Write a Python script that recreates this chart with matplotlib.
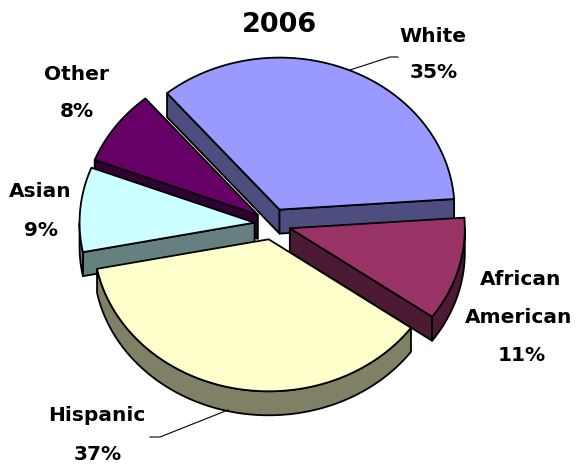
import numpy as np
import matplotlib.pyplot as plt
from matplotlib.patches import Polygon

# data
groups = ["White", "African American", "Hispanic", "Asian", "Other"]
shares = [35, 11, 37, 9, 8]
title = "2006"

top_colors = ["#9999FF", "#993366", "#FFFFCC", "#CCFFFF", "#660066"]
side_colors = ["#4D4D80", "#4D1A33", "#808066", "#668080", "#330033"]

# label placement (pixels): name lines and percent line
name_lines = [["White"], ["African", "American"], ["Hispanic"], ["Asian"], ["Other"]]
name_xy = [[(433, 36)], [(521, 279), (519, 317)], [(97, 415)], [(40, 191)], [(76, 74)]]
pct_xy = [(434, 73), (522, 355), (98, 454), (41, 230), (77, 111)]

fig = plt.figure(figsize=(5.79, 4.65), dpi=100)
ax = fig.add_axes([0, 0, 1, 1])
ax.set_xlim(0, 579)
ax.set_ylim(465, 0)
ax.axis("off")

cx, cy = 272.5, 224.0
rx, ry = 175.0, 152.0
depth = 24.0
explode = 18.0
start = 130.0
lw = 1.3


def rim(x0, y0, t, dz=0.0):
    return np.column_stack([x0 + rx * np.cos(t), y0 - ry * np.sin(t) + dz])


def wall(x0, y0, ta, tb, color):
    t = np.radians(np.linspace(ta, tb, 120))
    top = rim(x0, y0, t)
    bot = rim(x0, y0, t[::-1], depth)
    ax.add_patch(Polygon(np.vstack([top, bot]), closed=True, fc=color,
                         ec="black", lw=lw, joinstyle="round"))


def radial(x0, y0, tdeg, color):
    t = np.radians(tdeg)
    px, py = x0 + rx * np.cos(t), y0 - ry * np.sin(t)
    pts = [(x0, y0), (px, py), (px, py + depth), (x0, y0 + depth)]
    ax.add_patch(Polygon(pts, closed=True, fc=color, ec="black", lw=lw,
                         joinstyle="round"))


# slice angles (degrees, clockwise from start)
ends = []
cum = 0.0
for s in shares:
    t2 = start - cum * 3.6
    t1 = t2 - s * 3.6
    ends.append((t1, t2))
    cum += s

mids = [np.radians((a + b) / 2) for a, b in ends]
order = sorted(range(len(shares)), key=lambda i: -np.sin(mids[i]))

for i in order:
    t1, t2 = ends[i]
    m = mids[i]
    x0 = cx + explode * np.cos(m)
    y0 = cy - explode * (ry / rx) * np.sin(m)

    # visible radial walls
    if np.cos(np.radians(t2)) < 0:
        radial(x0, y0, t2, side_colors[i])
    if np.cos(np.radians(t1)) > 0:
        radial(x0, y0, t1, side_colors[i])

    # visible part of the outer wall (front half)
    for k in (-360, 0, 360):
        lo, hi = max(t1, -180 + k), min(t2, 0 + k)
        if hi > lo:
            wall(x0, y0, lo, hi, side_colors[i])

    # top face
    t = np.radians(np.linspace(t2, t1, 200))
    pts = np.vstack([[x0, y0], rim(x0, y0, t)])
    ax.add_patch(Polygon(pts, closed=True, fc=top_colors[i], ec="black",
                         lw=lw, joinstyle="round"))

# leader lines
ax.plot([350, 390, 398], [70, 57, 57], color="black", lw=0.8)
ax.plot([228, 160, 150], [410, 437, 437], color="black", lw=0.8)

# labels
fs = 14.5
for i in range(len(groups)):
    for txt, (x, y) in zip(name_lines[i], name_xy[i]):
        ax.text(x, y, txt, ha="center", va="center", fontsize=fs,
                fontweight="bold", color="black")
    px, py = pct_xy[i]
    ax.text(px, py, f"{shares[i]}%", ha="center", va="center", fontsize=fs,
            fontweight="bold", color="black")

ax.text(280, 25, title, ha="center", va="center", fontsize=19.5,
        fontweight="bold", color="black")

fig.savefig("out.png", dpi=100)
